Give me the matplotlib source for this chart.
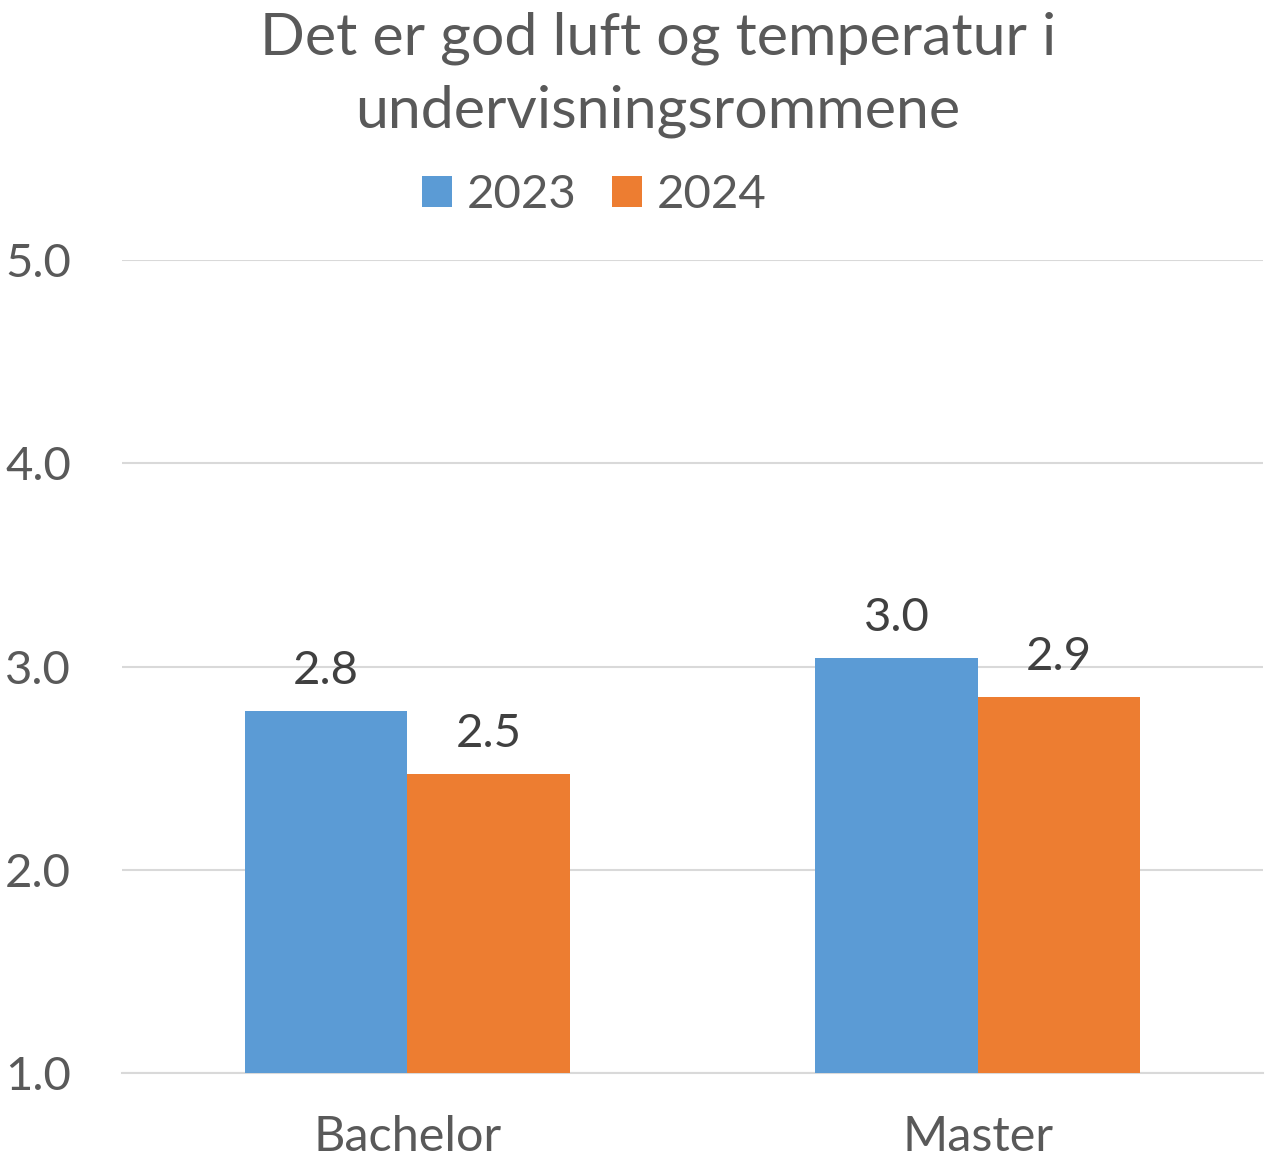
import matplotlib
matplotlib.use("Agg")
import matplotlib.pyplot as plt
import numpy as np

categories = ["Bachelor", "Master"]
series_names = ["2023", "2024"]
values_2023 = [2.78, 3.04]
values_2024 = [2.47, 2.85]
yticks = [1.0, 2.0, 3.0, 4.0, 5.0]
title = "Det er god luft og temperatur i\nundervisningsrommene"

plt.rcParams['font.family'] = ['Lato', 'DejaVu Sans']

fig = plt.figure(figsize=(12.65, 11.68), dpi=100)
ax = fig.add_axes([122/1265, 1 - 1073/1168, 1141/1265, (1073-260)/1168])

x = np.arange(len(categories))
w = 163/572
colors = ["#5B9BD5", "#ED7D31"]
for i, vals in enumerate([values_2023, values_2024]):
    pos = x + (i - 0.5) * w
    ax.bar(pos, np.array(vals) - 1.0, bottom=1.0, width=w, color=colors[i],
           label=series_names[i], zorder=3)
    for p, v in zip(pos, vals):
        ax.annotate(f"{v:.1f}", (p, v), xytext=(0, 14), textcoords="offset points",
                    ha="center", va="bottom", fontsize=34, color="#404040")

ax.set_xlim(-0.5, 1.5)
ax.set_ylim(1.0, 5.0)
ax.set_yticks(yticks)
ax.set_yticklabels([f"{t:.1f}" for t in yticks])
ax.set_xticks(x)
ax.set_xticklabels(categories)
ax.tick_params(axis='y', length=0, labelsize=34, labelcolor="#595959", pad=0)
ax.tick_params(axis='x', length=0, labelsize=35, labelcolor="#595959", pad=30)
for lbl in ax.get_yticklabels():
    lbl.set_ha("left")
    lbl.set_x(-117/1141)
ax.grid(axis='y', color="#D9D9D9", linewidth=1.5, zorder=0)
for s in ["top", "right", "left"]:
    ax.spines[s].set_visible(False)
ax.spines["bottom"].set_color("#D9D9D9")
ax.spines["bottom"].set_linewidth(1.5)

fig.text(658/1265, 1 - 75/1168, title, ha="center", va="center", fontsize=42.5,
         color="#595959", linespacing=1.45)

leg = fig.legend(loc="center", bbox_to_anchor=(594/1265, 1 - 195/1168), ncol=2,
                 frameon=False, fontsize=34, handlelength=0.65, handleheight=0.65,
                 columnspacing=0.75, handletextpad=0.3)
for t in leg.get_texts():
    t.set_color("#595959")

fig.savefig("out.png", dpi=100)
